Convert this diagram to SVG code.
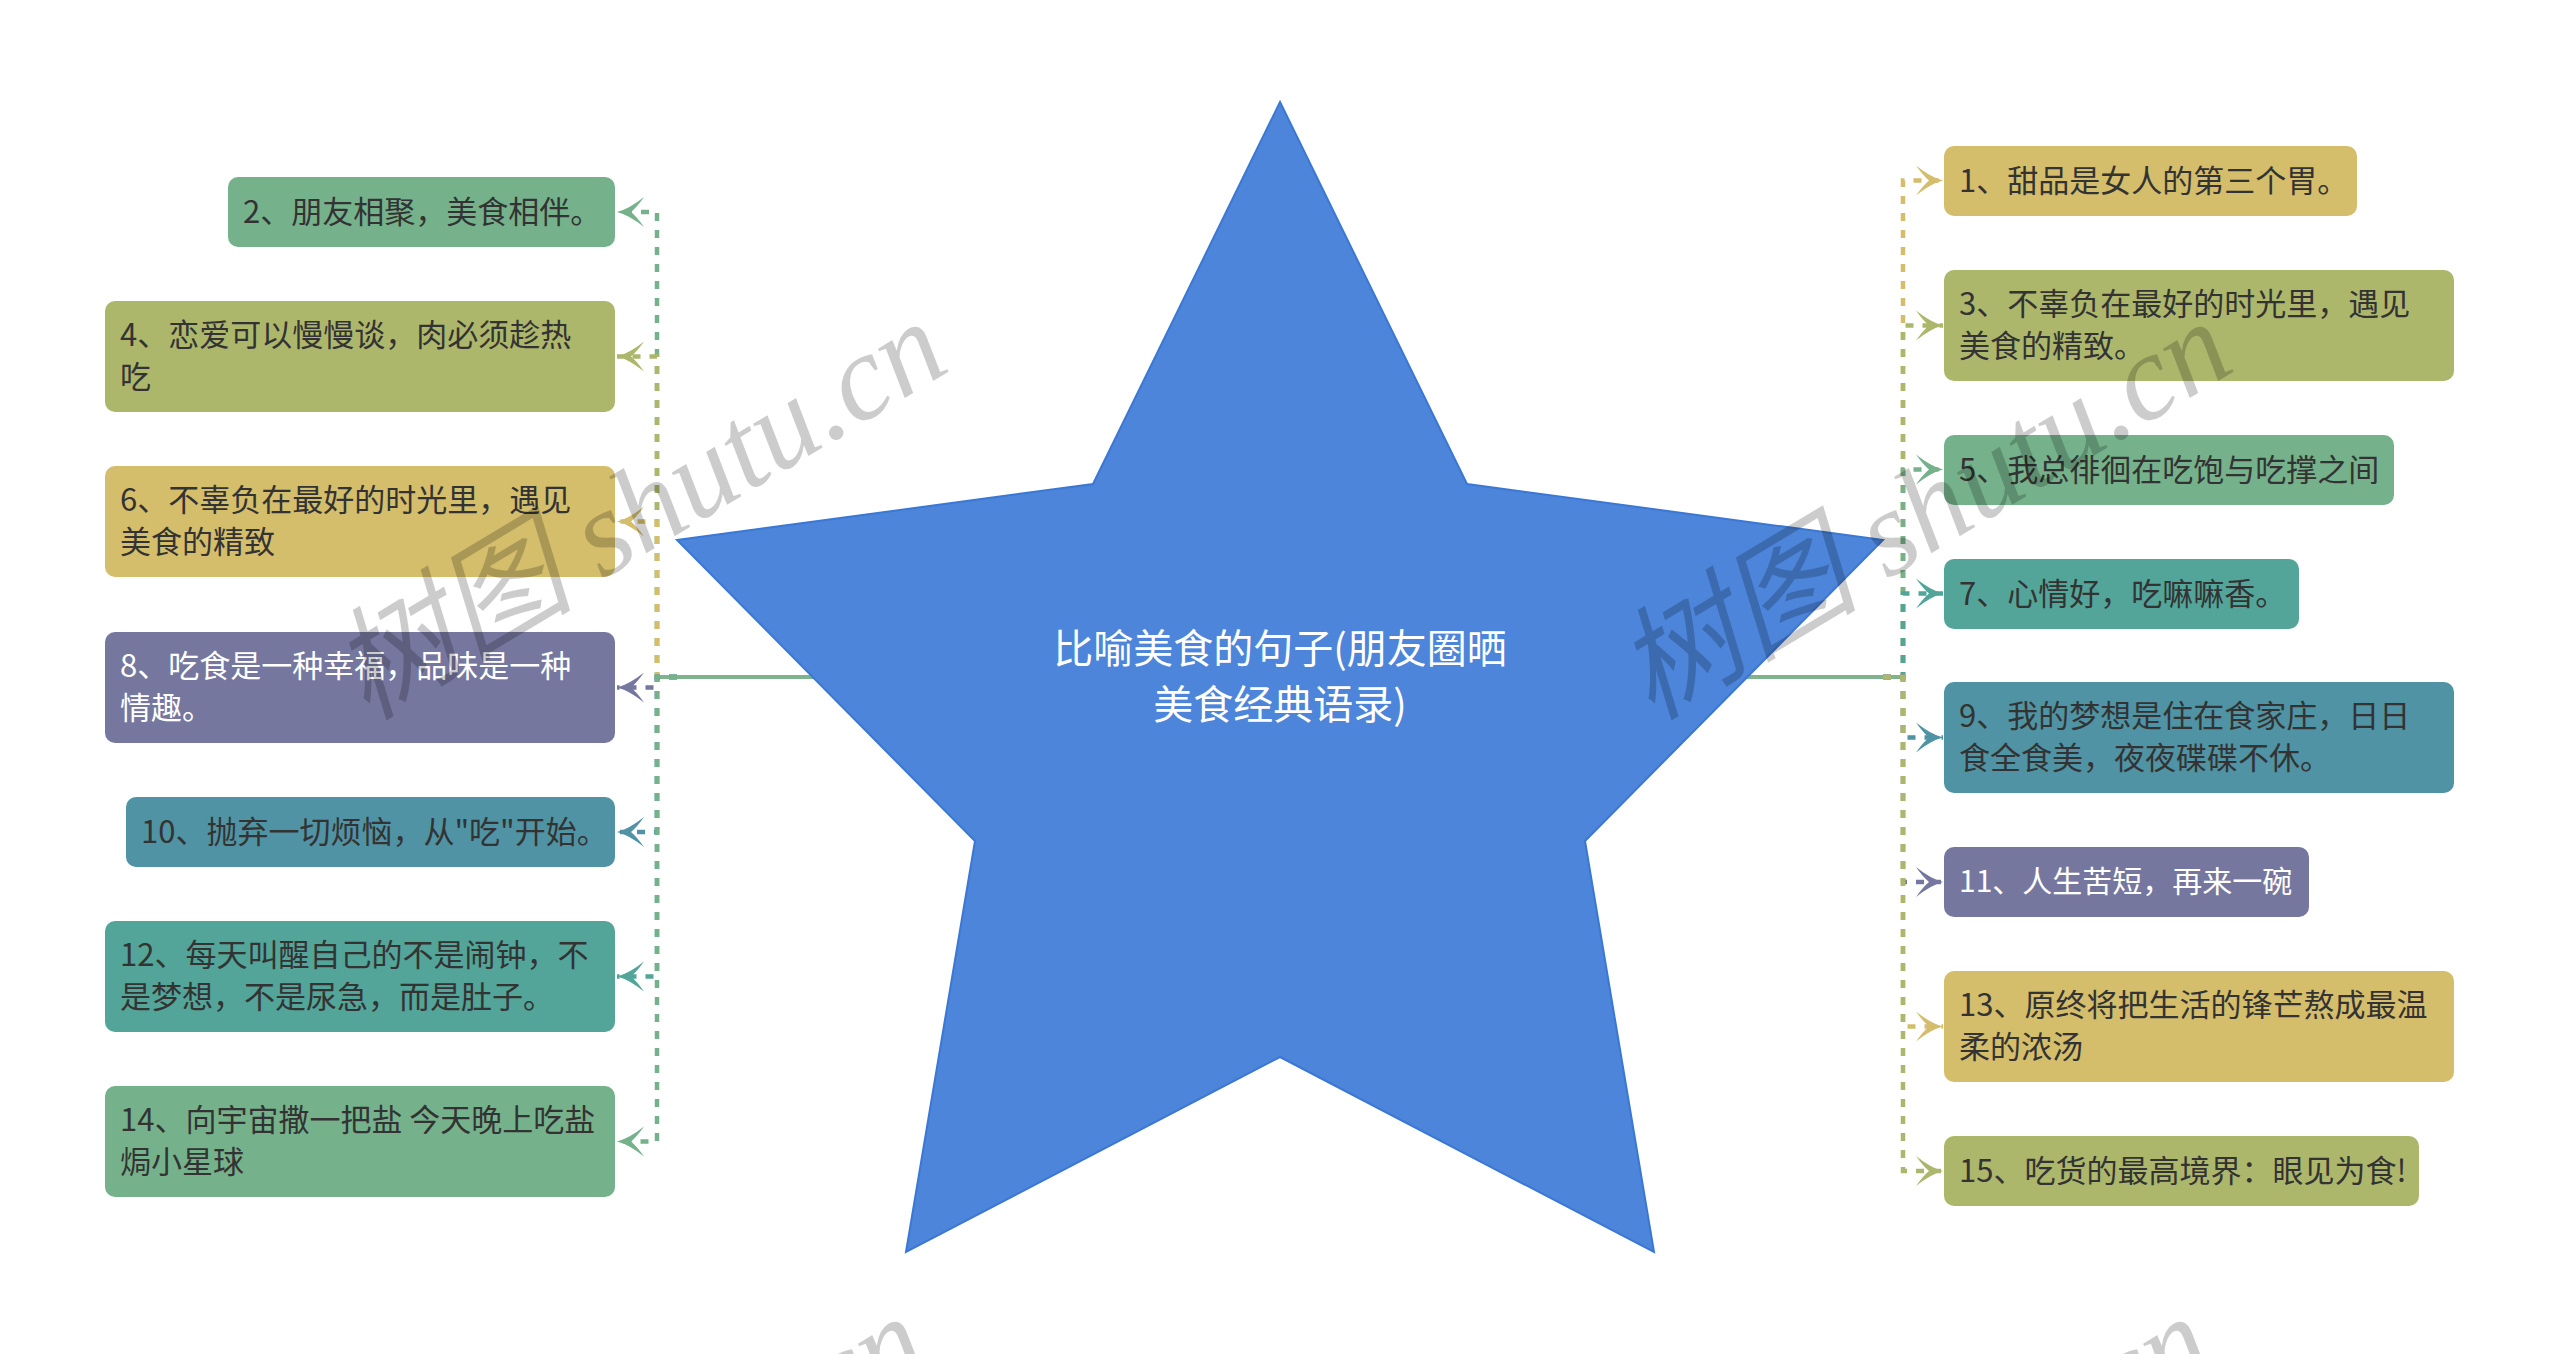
<svg xmlns="http://www.w3.org/2000/svg" width="2560" height="1354" viewBox="0 0 2560 1354">
<style>
.box text{font-family:"Noto Sans CJK SC","Noto Sans",sans-serif;font-size:31px;dominant-baseline:central}
.dk{fill:#333333}
.wt{fill:#ffffff}
.con{fill:none;stroke-width:4.5;stroke-dasharray:8 9}
.main{fill:none;stroke:#7DB48D;stroke-width:4}
.title{font-family:"Noto Sans CJK SC","Noto Sans",sans-serif;font-size:40px;fill:#ffffff;text-anchor:middle;dominant-baseline:central}
.wm{font-family:"Liberation Serif","Noto Sans CJK SC",serif;font-style:italic;font-size:122px;fill:#000000;fill-opacity:0.2;text-anchor:middle}
</style>
<defs>
<marker id="aG" markerUnits="userSpaceOnUse" markerWidth="40" markerHeight="40" refX="0" refY="0" viewBox="-30 -20 40 40" orient="auto"><path d="M0,0 Q-12,-3 -27,-15 Q-20,-5 -14,0 Q-20,5 -27,15 Q-12,3 0,0 Z" fill="#75B28B"/></marker>
<marker id="aO" markerUnits="userSpaceOnUse" markerWidth="40" markerHeight="40" refX="0" refY="0" viewBox="-30 -20 40 40" orient="auto"><path d="M0,0 Q-12,-3 -27,-15 Q-20,-5 -14,0 Q-20,5 -27,15 Q-12,3 0,0 Z" fill="#ADB76C"/></marker>
<marker id="aY" markerUnits="userSpaceOnUse" markerWidth="40" markerHeight="40" refX="0" refY="0" viewBox="-30 -20 40 40" orient="auto"><path d="M0,0 Q-12,-3 -27,-15 Q-20,-5 -14,0 Q-20,5 -27,15 Q-12,3 0,0 Z" fill="#D4BD6B"/></marker>
<marker id="aP" markerUnits="userSpaceOnUse" markerWidth="40" markerHeight="40" refX="0" refY="0" viewBox="-30 -20 40 40" orient="auto"><path d="M0,0 Q-12,-3 -27,-15 Q-20,-5 -14,0 Q-20,5 -27,15 Q-12,3 0,0 Z" fill="#76779F"/></marker>
<marker id="aB" markerUnits="userSpaceOnUse" markerWidth="40" markerHeight="40" refX="0" refY="0" viewBox="-30 -20 40 40" orient="auto"><path d="M0,0 Q-12,-3 -27,-15 Q-20,-5 -14,0 Q-20,5 -27,15 Q-12,3 0,0 Z" fill="#4F93A4"/></marker>
<marker id="aT" markerUnits="userSpaceOnUse" markerWidth="40" markerHeight="40" refX="0" refY="0" viewBox="-30 -20 40 40" orient="auto"><path d="M0,0 Q-12,-3 -27,-15 Q-20,-5 -14,0 Q-20,5 -27,15 Q-12,3 0,0 Z" fill="#52A598"/></marker>
</defs>
<rect width="2560" height="1354" fill="#ffffff"/>
<g id="connectors">
<path class="main" d="M1280,677 H657"/>
<path class="main" d="M1280,677 H1903"/>
<path class="con" stroke="#75B28B" marker-end="url(#aG)" d="M677,677 H657 V212 H617"/>
<path class="con" stroke="#ADB76C" marker-end="url(#aO)" d="M677,677 H657 V356.5 H617"/>
<path class="con" stroke="#D4BD6B" marker-end="url(#aY)" d="M677,677 H657 V521.5 H617"/>
<path class="con" stroke="#76779F" marker-end="url(#aP)" d="M677,677 H657 V687.5 H617"/>
<path class="con" stroke="#4F93A4" marker-end="url(#aB)" d="M677,677 H657 V832 H617"/>
<path class="con" stroke="#52A598" marker-end="url(#aT)" d="M677,677 H657 V976.5 H617"/>
<path class="con" stroke="#75B28B" marker-end="url(#aG)" d="M677,677 H657 V1141.5 H617"/>
<path class="con" stroke="#D4BD6B" marker-end="url(#aY)" d="M1883,677 H1903 V180.5 H1943"/>
<path class="con" stroke="#ADB76C" marker-end="url(#aO)" d="M1883,677 H1903 V325.5 H1943"/>
<path class="con" stroke="#75B28B" marker-end="url(#aG)" d="M1883,677 H1903 V469.5 H1943"/>
<path class="con" stroke="#52A598" marker-end="url(#aT)" d="M1883,677 H1903 V593.5 H1943"/>
<path class="con" stroke="#4F93A4" marker-end="url(#aB)" d="M1883,677 H1903 V737.5 H1943"/>
<path class="con" stroke="#76779F" marker-end="url(#aP)" d="M1883,677 H1903 V882 H1943"/>
<path class="con" stroke="#D4BD6B" marker-end="url(#aY)" d="M1883,677 H1903 V1026.5 H1943"/>
<path class="con" stroke="#ADB76C" marker-end="url(#aO)" d="M1883,677 H1903 V1171 H1943"/>
</g>
<g id="root">
<polygon points="1280,102 1467,484 1883,540 1585,841 1654,1252 1280,1057 906,1252 975,841 677,540 1093,484" fill="#4C85DA" stroke="#3B77D4" stroke-width="2"/>
<text class="title" x="1280" y="646">比喻美食的句子(朋友圈晒</text>
<text class="title" x="1280" y="702">美食经典语录)</text>
</g>
<g id="n2" class="box"><rect x="228" y="177" width="387" height="70" rx="10" fill="#75B28B"/><text class="dk" x="243" y="209">2、朋友相聚，美食相伴。</text></g>
<g id="n4" class="box"><rect x="105" y="301" width="510" height="111" rx="10" fill="#ADB76C"/><text class="dk" x="120" y="332.5">4、恋爱可以慢慢谈，肉必须趁热</text><text class="dk" x="120" y="374.5">吃</text></g>
<g id="n6" class="box"><rect x="105" y="466" width="510" height="111" rx="10" fill="#D4BD6B"/><text class="dk" x="120" y="497.5">6、不辜负在最好的时光里，遇见</text><text class="dk" x="120" y="539.5">美食的精致</text></g>
<g id="n8" class="box"><rect x="105" y="632" width="510" height="111" rx="10" fill="#76779F"/><text class="wt" x="120" y="663.5">8、吃食是一种幸福，品味是一种</text><text class="wt" x="120" y="705.5">情趣。</text></g>
<g id="n10" class="box"><rect x="126" y="797" width="489" height="70" rx="10" fill="#4F93A4"/><text class="dk" x="141" y="829">10、抛弃一切烦恼，从"吃"开始。</text></g>
<g id="n12" class="box"><rect x="105" y="921" width="510" height="111" rx="10" fill="#52A598"/><text class="dk" x="120" y="952.5">12、每天叫醒自己的不是闹钟，不</text><text class="dk" x="120" y="994.5">是梦想，不是尿急，而是肚子。</text></g>
<g id="n14" class="box"><rect x="105" y="1086" width="510" height="111" rx="10" fill="#75B28B"/><text class="dk" x="120" y="1117.5">14、向宇宙撒一把盐 今天晚上吃盐</text><text class="dk" x="120" y="1159.5">焗小星球</text></g>
<g id="n1" class="box"><rect x="1944" y="146" width="413" height="70" rx="10" fill="#D4BD6B"/><text class="dk" x="1959" y="178">1、甜品是女人的第三个胃。</text></g>
<g id="n3" class="box"><rect x="1944" y="270" width="510" height="111" rx="10" fill="#ADB76C"/><text class="dk" x="1959" y="301.5">3、不辜负在最好的时光里，遇见</text><text class="dk" x="1959" y="343.5">美食的精致。</text></g>
<g id="n5" class="box"><rect x="1944" y="435" width="450" height="70" rx="10" fill="#75B28B"/><text class="dk" x="1959" y="467">5、我总徘徊在吃饱与吃撑之间</text></g>
<g id="n7" class="box"><rect x="1944" y="559" width="355" height="70" rx="10" fill="#52A598"/><text class="dk" x="1959" y="591">7、心情好，吃嘛嘛香。</text></g>
<g id="n9" class="box"><rect x="1944" y="682" width="510" height="111" rx="10" fill="#4F93A4"/><text class="dk" x="1959" y="713.5">9、我的梦想是住在食家庄，日日</text><text class="dk" x="1959" y="755.5">食全食美，夜夜碟碟不休。</text></g>
<g id="n11" class="box"><rect x="1944" y="847" width="365" height="70" rx="10" fill="#76779F"/><text class="wt" x="1959" y="879" style="font-size:30px">11、人生苦短，再来一碗</text></g>
<g id="n13" class="box"><rect x="1944" y="971" width="510" height="111" rx="10" fill="#D4BD6B"/><text class="dk" x="1959" y="1002.5">13、原终将把生活的锋芒熬成最温</text><text class="dk" x="1959" y="1044.5">柔的浓汤</text></g>
<g id="n15" class="box"><rect x="1944" y="1136" width="475" height="70" rx="10" fill="#ADB76C"/><text class="dk" x="1959" y="1168">15、吃货的最高境界：眼见为食!</text></g>
<g id="watermark">
<text class="wm" transform="translate(660,545) rotate(-31)">树图 shutu.cn</text>
<text class="wm" transform="translate(1945,545) rotate(-31)">树图 shutu.cn</text>
<text class="wm" transform="translate(640,1540) rotate(-31)">树图 shutu.cn</text>
<text class="wm" transform="translate(1925,1540) rotate(-31)">树图 shutu.cn</text>
</g>
</svg>
